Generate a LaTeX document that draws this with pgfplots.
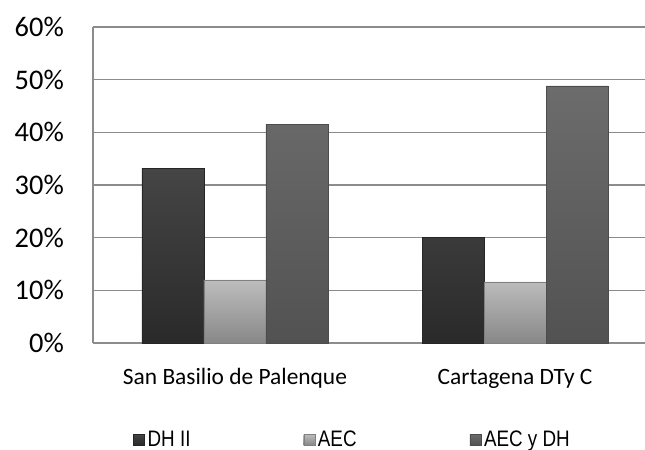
\documentclass[border=0pt]{standalone}
\usepackage{pgfplots}
\pgfplotsset{compat=1.18}
\usepackage{fontspec}
\setmainfont{Carlito}
\newfontfamily\legfont[FakeStretch=0.84]{Liberation Sans}

\definecolor{gridc}{HTML}{8C8C8C}
\definecolor{dhtop}{HTML}{454545}
\definecolor{dhbot}{HTML}{2A2A2A}
\definecolor{aectop}{HTML}{BDBDBD}
\definecolor{aecbot}{HTML}{888888}
\definecolor{bothtop}{HTML}{6C6C6C}
\definecolor{bothbot}{HTML}{525252}

\begin{document}
\begin{tikzpicture}
\begin{axis}[
  scale only axis,
  width=552bp, height=316bp,
  xmin=-0.507, xmax=1.464,
  ymin=0, ymax=60,
  ytick={0,10,...,60},
  yticklabel={\pgfmathparse{int(\tick)}\pgfmathresult\%},
  xtick={0,1},
  xticklabels={San Basilio de Palenque, Cartagena DTy C},
  ybar=0pt, bar width=62bp,
  axis lines*=left,
  axis line style={gridc, line width=1.2bp},
  ymajorgrids, grid style={gridc, line width=1.2bp},
  major tick length=0pt,
  yticklabel style={font=\fontsize{28.5}{30}\selectfont, anchor=east, inner sep=0pt, xshift=-29bp},
  xticklabel style={font=\fontsize{23.5}{26}\selectfont, anchor=base, inner sep=0pt, yshift=-41bp},
  legend columns=3,
  legend style={draw=none, fill=none, at={(0.0725,-0.304)}, anchor=west,
    font=\legfont\fontsize{22.5}{26}\selectfont, inner sep=0pt,
    nodes={inner sep=0pt},
    /tikz/every odd column/.append style={column sep=3bp},
    /tikz/every even column/.append style={column sep=113bp}},
  every axis plot post/.append style={
    legend image code/.code={\fill[##1] (0bp,-6bp) rectangle (11bp,5bp);}},
]
\addplot[draw=black!85, top color=dhtop, bottom color=dhbot] coordinates {(0,33.2) (1,20.0)};
\addlegendentry{DH II}
\addplot[draw=black!50, top color=aectop, bottom color=aecbot] coordinates {(0,12.0) (1,11.6)};
\addlegendentry{AEC}
\addplot[draw=black!70, top color=bothtop, bottom color=bothbot] coordinates {(0,41.5) (1,48.8)};
\addlegendentry{AEC y DH}
\end{axis}
\pgfresetboundingbox
\path (current axis.south west) ++(-93bp,-107bp) rectangle ++(645bp,450bp);
\end{tikzpicture}
\end{document}
